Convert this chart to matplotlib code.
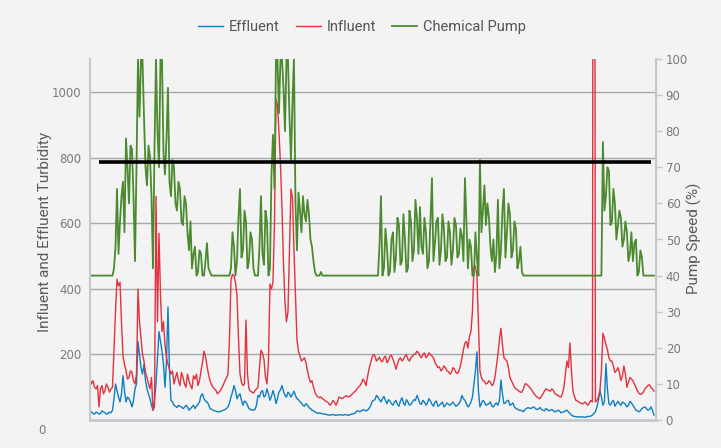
import matplotlib.pyplot as plt
import numpy as np

# readings taken along the time axis, two per 3 px of the original plot
effluent = [
    22, 25, 20, 18, 24, 22, 18, 20, 28, 25, 22, 18, 20, 24, 22, 30, 65, 110, 90, 70,
    55, 80, 135, 90, 55, 70, 65, 55, 40, 60, 95, 110, 240, 200, 160, 140, 170, 120, 95, 80,
    65, 45, 30, 60, 110, 190, 270, 240, 210, 170, 100, 180, 345, 150, 60, 55, 45, 42, 38, 45,
    42, 40, 35, 38, 45, 40, 30, 35, 40, 45, 35, 42, 48, 55, 75, 80, 65, 58, 55, 48,
    35, 33, 30, 28, 27, 25, 25, 26, 28, 30, 32, 35, 40, 52, 70, 85, 105, 90, 65, 75,
    80, 60, 45, 58, 55, 45, 35, 32, 30, 30, 32, 45, 75, 70, 85, 90, 70, 75, 95, 80,
    60, 72, 90, 75, 50, 65, 85, 92, 105, 88, 75, 70, 85, 80, 70, 78, 88, 75, 65, 62,
    55, 52, 45, 42, 50, 45, 38, 35, 30, 28, 25, 22, 20, 22, 20, 19, 18, 18, 16, 15,
    15, 16, 17, 15, 14, 15, 16, 16, 15, 15, 17, 16, 14, 15, 18, 18, 20, 22, 28, 27,
    25, 28, 32, 30, 28, 30, 35, 42, 55, 60, 62, 75, 70, 62, 55, 65, 72, 60, 50, 62,
    58, 50, 45, 55, 60, 48, 42, 58, 68, 52, 45, 62, 55, 45, 48, 55, 62, 60, 75, 65,
    50, 48, 60, 55, 45, 52, 65, 58, 48, 42, 55, 58, 42, 45, 50, 55, 40, 45, 52, 48,
    45, 50, 55, 48, 42, 45, 50, 58, 75, 65, 60, 50, 40, 45, 55, 70, 110, 150, 208, 90,
    40, 50, 60, 55, 45, 48, 50, 55, 42, 40, 48, 52, 45, 60, 122, 80, 50, 52, 58, 60,
    45, 48, 52, 40, 35, 33, 30, 30, 28, 25, 32, 35, 38, 36, 35, 38, 40, 35, 32, 34,
    38, 32, 30, 28, 35, 32, 28, 30, 32, 28, 25, 26, 30, 28, 22, 24, 25, 28, 30, 25,
    20, 15, 12, 11, 10, 10, 9, 9, 10, 9, 8, 10, 11, 11, 12, 15, 20, 25, 40, 60,
    90, 70, 45, 55, 172, 95, 50, 45, 55, 60, 42, 50, 57, 50, 45, 55, 52, 48, 40, 45,
    57, 52, 45, 38, 30, 28, 25, 28, 35, 38, 40, 35, 30, 32, 40, 30, 15,
]
influent = [
    125, 110, 120, 100, 95, 105, 40, 95, 105, 80, 90, 110, 100, 85, 95, 100, 215, 330, 430, 410,
    420, 300, 195, 170, 150, 125, 130, 150, 145, 120, 110, 140, 400, 300, 250, 200, 180, 145, 130, 110,
    95, 130, 30, 40, 683, 300, 570, 380, 270, 300, 230, 190, 170, 155, 140, 150, 110, 130, 145, 120,
    105, 145, 130, 110, 100, 140, 120, 105, 95, 135, 125, 140, 105, 120, 150, 175, 210, 195, 165, 140,
    120, 108, 100, 95, 90, 80, 85, 90, 100, 108, 120, 128, 140, 250, 427, 445, 440, 420, 380, 250,
    142, 115, 105, 110, 305, 140, 95, 88, 85, 82, 90, 95, 100, 160, 213, 205, 185, 130, 110, 180,
    415, 400, 420, 600, 980, 960, 880, 780, 650, 480, 360, 300, 330, 520, 705, 680, 520, 380, 245, 210,
    195, 180, 185, 190, 175, 150, 130, 115, 120, 100, 85, 75, 70, 68, 70, 65, 62, 58, 55, 52,
    45, 50, 60, 55, 45, 55, 70, 68, 65, 68, 72, 74, 70, 72, 75, 80, 85, 88, 95, 100,
    105, 112, 125, 118, 105, 130, 155, 172, 190, 200, 195, 180, 185, 192, 180, 178, 190, 195, 175, 182,
    195, 198, 185, 172, 155, 170, 185, 190, 180, 185, 195, 200, 185, 180, 190, 195, 200, 202, 210, 205,
    195, 190, 200, 205, 190, 195, 205, 200, 195, 190, 175, 168, 160, 162, 150, 155, 165, 160, 150, 148,
    140, 145, 160, 155, 145, 142, 150, 165, 190, 215, 235, 240, 220, 255, 270, 330, 465, 470, 440, 300,
    150, 130, 120, 118, 110, 112, 120, 115, 105, 110, 130, 165, 200, 245, 280, 230, 190, 185, 180, 160,
    130, 120, 110, 100, 95, 92, 88, 85, 85, 95, 110, 110, 105, 100, 95, 88, 80, 75, 70, 68,
    65, 72, 80, 88, 95, 92, 90, 88, 95, 90, 80, 78, 75, 72, 70, 80, 100, 140, 180, 160,
    235, 150, 90, 72, 60, 58, 55, 52, 50, 50, 55, 50, 45, 52, 60, 55, 4000, 55, 60, 70,
    90, 150, 265, 250, 230, 215, 190, 180, 180, 165, 145, 150, 160, 145, 120, 135, 165, 140, 100, 115,
    130, 125, 120, 110, 100, 90, 82, 78, 80, 85, 95, 100, 105, 108, 100, 95, 88,
]
pump = [
    40, 40, 40, 40, 40, 40, 40, 40, 40, 40, 40, 40, 40, 40, 40, 40, 42, 48, 64, 46,
    55, 62, 66, 52, 78, 70, 60, 76, 75, 62, 44, 70, 100, 84, 100, 100, 84, 70, 65, 76,
    73, 62, 42, 75, 100, 80, 70, 100, 100, 74, 68, 78, 92, 66, 62, 72, 70, 60, 58, 66,
    64, 55, 54, 62, 60, 52, 47, 55, 42, 46, 48, 40, 41, 47, 46, 40, 40, 44, 49, 42,
    41, 40, 40, 40, 40, 40, 40, 40, 40, 40, 40, 40, 40, 40, 42, 52, 48, 40, 44, 56,
    64, 45, 47, 58, 55, 42, 44, 52, 50, 42, 40, 40, 40, 48, 62, 46, 43, 58, 55, 40,
    42, 68, 79, 64, 100, 100, 85, 100, 100, 92, 80, 100, 100, 84, 72, 88, 100, 60, 47, 63,
    58, 52, 62, 57, 55, 61, 57, 50, 48, 44, 41, 40, 40, 40, 41, 40, 40, 40, 40, 40,
    40, 40, 40, 40, 40, 40, 40, 40, 40, 40, 40, 40, 40, 40, 40, 40, 40, 40, 40, 40,
    40, 40, 40, 40, 40, 40, 40, 40, 40, 40, 40, 40, 40, 48, 62, 40, 42, 53, 48, 40,
    41, 50, 52, 41, 45, 56, 54, 43, 44, 57, 50, 41, 42, 58, 55, 44, 47, 61, 56, 46,
    59, 48, 46, 56, 52, 42, 44, 55, 67, 44, 49, 55, 56, 43, 47, 57, 53, 44, 45, 55,
    52, 43, 47, 56, 54, 45, 46, 53, 51, 44, 67, 55, 42, 50, 48, 40, 40, 52, 45, 40,
    72, 52, 58, 65, 54, 60, 56, 48, 44, 50, 41, 46, 61, 42, 47, 58, 64, 45, 52, 60,
    57, 45, 47, 55, 53, 42, 44, 48, 41, 40, 40, 40, 40, 40, 40, 40, 40, 40, 40, 40,
    40, 40, 40, 40, 40, 40, 40, 40, 40, 40, 40, 40, 40, 40, 40, 40, 40, 40, 40, 40,
    40, 40, 40, 40, 40, 40, 40, 40, 40, 40, 40, 40, 40, 40, 40, 40, 40, 40, 40, 40,
    40, 40, 77, 58, 62, 70, 69, 54, 55, 64, 60, 50, 54, 58, 56, 48, 50, 55, 52, 44,
    46, 52, 44, 49, 50, 40, 41, 47, 45, 40, 40, 40, 40, 40, 40, 40, 40,
]
t = np.arange(len(pump)) / 2

threshold = 71.5  # pump speed %
threshold_span = (3, 187)

left_ticks = [200, 400, 600, 800, 1000]
right_ticks = [0, 10, 20, 30, 40, 50, 60, 70, 80, 90, 100]

bg = '#f3f3f3'
c_eff = '#0f7ec2'
c_inf = '#e2323f'
c_pump = '#4b8a2f'
c_grid = '#a3a8ad'
c_spine = '#c4c8cc'
c_txt = '#7a7a7a'

plt.rcParams['font.family'] = ['Roboto', 'DejaVu Sans']

fig = plt.figure(figsize=(7.21, 4.48), dpi=100, facecolor=bg)
ax = fig.add_axes([90 / 721, 28 / 448, 566 / 721, 361 / 448])
ax.set_facecolor(bg)
ax2 = ax.twinx()

l1, = ax.plot(t, effluent, color=c_eff, lw=1.0)
l2, = ax.plot(t, influent, color=c_inf, lw=1.0)
l3, = ax2.plot(t, pump, color=c_pump, lw=1.3)
ax2.hlines(threshold, *threshold_span, color='black', lw=2.6, zorder=5)

ax.set_xlim(0, 188.7)
ax.set_ylim(0, 1102)
ax2.set_ylim(0, 100)

ax.set_yticks(left_ticks)
ax.yaxis.grid(True, color=c_grid, lw=1)
ax.set_axisbelow(True)
ax.set_xticks([])
ax.tick_params(axis='y', length=0, pad=6, labelcolor=c_txt, labelsize=8.5)
ax2.set_yticks(right_ticks)
ax2.tick_params(axis='y', length=4, width=1, color=c_spine, pad=3,
                labelcolor=c_txt, labelsize=8.5)
for lab in ax.get_yticklabels() + ax2.get_yticklabels():
    lab.set_family(['Liberation Sans Narrow', 'DejaVu Sans'])

for a in (ax, ax2):
    a.spines['top'].set_visible(False)
    for s in ('left', 'right', 'bottom'):
        a.spines[s].set_color(c_spine)
ax.spines['left'].set_linewidth(1.5)
ax2.spines['right'].set_linewidth(1.5)
ax.spines['bottom'].set_linewidth(2)
ax2.spines['bottom'].set_visible(False)

fig.text(45 / 721, 1 - 232 / 448, 'Influent and Effluent Turbidity', rotation=90,
         ha='center', va='center', fontsize=11, color='#5a5a5a')
fig.text(694 / 721, 1 - 238 / 448, 'Pump Speed (%)', rotation=90,
         ha='center', va='center', fontsize=11, color='#5a5a5a')
fig.text(42 / 721, 1 - 430 / 448, '0', ha='center', va='center', fontsize=8.5,
         color=c_txt, family=['Liberation Sans Narrow', 'DejaVu Sans'])

fig.legend([l1, l2, l3], ['Effluent', 'Influent', 'Chemical Pump'],
           loc='center', bbox_to_anchor=(0.502, 1 - 27 / 448), ncol=3,
           frameon=False, fontsize=10.5, handlelength=1.7, handletextpad=0.4,
           columnspacing=1.1, labelcolor='#555555')

fig.savefig('out.png', dpi=100, facecolor=bg)
